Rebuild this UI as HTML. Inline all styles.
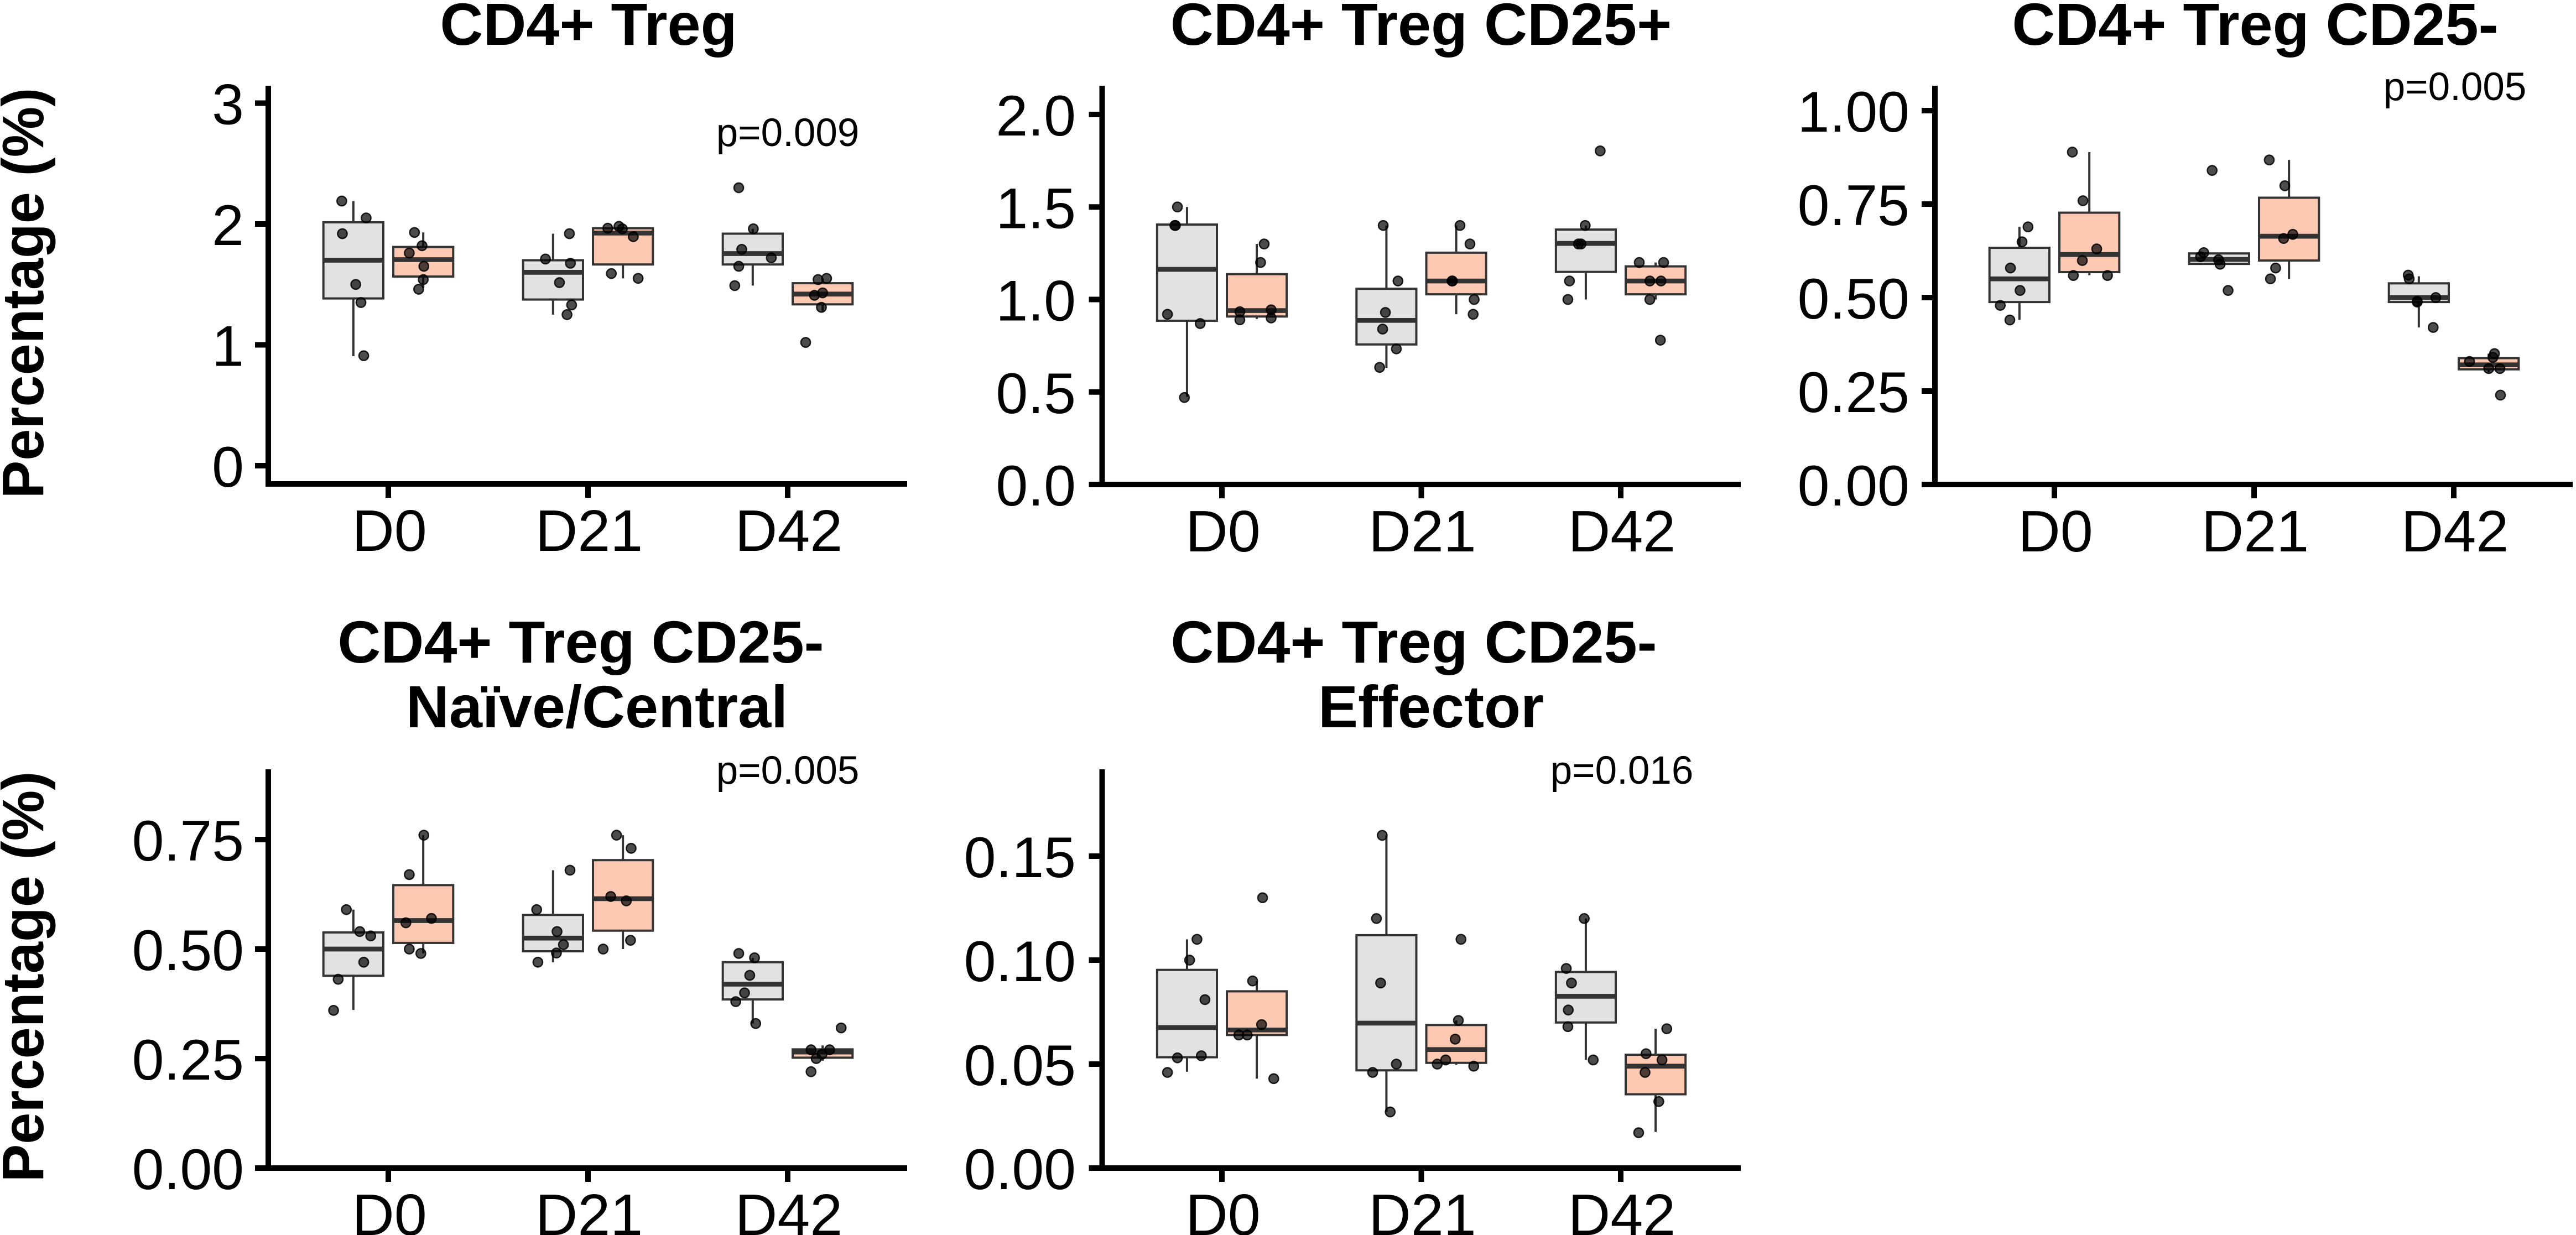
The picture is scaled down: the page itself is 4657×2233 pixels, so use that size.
<!DOCTYPE html>
<html lang="en">
<head>
<meta charset="utf-8">
<title>CD4+ Treg percentages by timepoint</title>
<style>
html,body{margin:0;padding:0;background:#fff;}
svg{display:block;font-family:"Liberation Sans",Arial,sans-serif;}
</style>
</head>
<body>
<svg id="figure" xmlns="http://www.w3.org/2000/svg" width="4657" height="2233" viewBox="0 0 4657 2233"></svg>
<script>
// Shared categories. Each series array below has 6 entries, ordered:
// D0 control, D0 treated, D21 control, D21 treated, D42 control, D42 treated.
const categories = ['D0', 'D21', 'D42'];
const groups = ['control', 'treated'];

// Panel: CD4+ Treg
const tregTicks = ['0', '1', '2', '3'];
const tregQ1 = [1.384, 1.565, 1.375, 1.665, 1.665, 1.335];
const tregMedian = [1.70, 1.705, 1.60, 1.925, 1.755, 1.42];
const tregQ3 = [2.014, 1.81, 1.70, 1.965, 1.92, 1.51];
const tregLow = [0.906, 1.47, 1.25, 1.55, 1.49, 1.28];
const tregHigh = [2.19, 1.93, 1.92, 1.97, 1.96, 1.55];
const tregPoints = [
  [2.19, 2.05, 1.92, 1.50, 1.35, 0.91],
  [1.93, 1.82, 1.76, 1.65, 1.54, 1.46],
  [1.92, 1.71, 1.675, 1.515, 1.33, 1.25],
  [1.965, 1.98, 1.96, 1.895, 1.59, 1.55],
  [2.30, 1.96, 1.79, 1.72, 1.65, 1.49],
  [1.54, 1.55, 1.41, 1.43, 1.31, 1.02]
];
const tregJitter = [
  [-.058, .064, -.055, .012, .038, .052],
  [-.044, -.006, -.070, .003, 0, -.023],
  [.082, -.038, .087, .032, .093, .070],
  [-.076, -.020, -.003, .052, -.058, .076],
  [-.070, .003, -.055, .093, -.070, -.090],
  [-.023, .020, -.041, 0, -.006, -.085]
];

// Panel: CD4+ Treg CD25+
const cd25posTicks = ['0.0', '0.5', '1.0', '1.5', '2.0'];
const cd25posQ1 = [.885, .908, .757, 1.028, 1.149, 1.028];
const cd25posMedian = [1.163, .94, .887, 1.10, 1.303, 1.10];
const cd25posQ3 = [1.405, 1.137, 1.058, 1.253, 1.378, 1.179];
const cd25posLow = [.474, .895, .63, .92, 1.0, 1.0];
const cd25posHigh = [1.50, 1.30, 1.40, 1.40, 1.40, 1.20];
const cd25posPoints = [
  [1.5, 1.4, 1.4, .92, .87, .47],
  [1.3, 1.2, .934, .944, .89, .90],
  [1.4, 1.1, .93, .84, .733, .633],
  [1.4, 1.3, 1.1, 1.1, 1.0, .92],
  [1.803, 1.4, 1.3, 1.3, 1.1, 1.0],
  [1.2, 1.2, 1.1, 1.1, 1.0, .78]
];
const cd25posJitter = [
  [-.048, -.058, -.061, -.098, .066, -.013],
  [.037, .019, -.085, .072, -.085, .072],
  [-.016, .058, -.005, -.019, .050, -.034],
  [.019, .069, -.021, -.019, .090, .085],
  [.072, -.003, -.037, -.024, -.082, -.090],
  [-.082, .040, -.029, .027, -.029, .024]
];

// Panel: CD4+ Treg CD25-
const cd25negTicks = ['0.00', '0.25', '0.50', '0.75', '1.00'];
const cd25negQ1 = [.488, .568, .59, .599, .488, .308];
const cd25negMedian = [.55, .615, .602, .664, .50, .32];
const cd25negQ3 = [.633, .727, .618, .767, .538, .338];
const cd25negLow = [.44, .56, .59, .55, .42, .30];
const cd25negHigh = [.689, .889, .618, .868, .557, .35];
const cd25negPoints = [
  [.689, .649, .579, .519, .479, .44],
  [.889, .759, .63, .599, .559, .559],
  [.84, .62, .609, .601, .589, .519],
  [.868, .799, .669, .658, .579, .55],
  [.56, .55, .5, .49, .488, .42],
  [.35, .34, .329, .31, .31, .239]
];
const cd25negJitter = [
  [.043, .013, -.045, .003, -.096, -.048],
  [-.085, -.032, .037, -.035, -.080, .091],
  [-.035, -.077, -.093, -.003, .005, .045],
  [-.099, -.021, .019, -.027, -.067, -.093],
  [-.053, -.048, .085, -.008, -.008, .072],
  [.029, .021, -.096, 0, .056, .059]
];

// Panel: CD4+ Treg CD25- Naive/Central
const naiveTicks = ['0.00', '0.25', '0.50', '0.75'];
const naiveQ1 = [.439, .514, .495, .542, .385, .252];
const naiveMedian = [.50, .565, .525, .615, .42, .265];
const naiveQ3 = [.538, .646, .578, .703, .47, .271];
const naiveLow = [.361, .49, .47, .50, .33, .245];
const naiveHigh = [.59, .76, .68, .76, .48, .28];
const naivePoints = [
  [.59, .54, .53, .47, .431, .36],
  [.76, .67, .57, .56, .50, .49],
  [.68, .59, .54, .51, .491, .47],
  [.76, .73, .62, .61, .52, .50],
  [.49, .48, .44, .40, .38, .33],
  [.32, .27, .27, .26, .25, .22]
];
const naiveJitter = [
  [-.035, .032, .087, .052, -.076, -.099],
  [.003, -.070, .041, -.087, -.070, -.012],
  [.085, -.082, .020, .052, .017, -.076],
  [-.032, .041, -.061, .017, .038, -.099],
  [-.070, .009, -.015, -.041, -.085, .015],
  [.093, -.058, .035, -.003, -.032, -.058]
];

// Panel: CD4+ Treg CD25- Effector
const effectorTicks = ['0.00', '0.05', '0.10', '0.15'];
const effectorQ1 = [.0533, .064, .047, .0506, .07, .0355];
const effectorMedian = [.0676, .0664, .0697, .057, .0826, .049];
const effectorQ3 = [.0953, .085, .112, .0688, .0943, .0545];
const effectorLow = [.0463, .043, .027, .0496, .052, .0174];
const effectorHigh = [.11, .09, .16, .071, .12, .067];
const effectorPoints = [
  [.11, .10, .081, .053, .054, .046],
  [.13, .09, .069, .064, .064, .043],
  [.16, .12, .089, .05, .046, .027],
  [.11, .071, .062, .052, .05, .049],
  [.12, .096, .089, .076, .068, .052],
  [.067, .055, .052, .046, .032, .017]
];
const effectorJitter = [
  [.050, .013, .090, -.048, .072, -.098],
  [.029, -.021, .024, -.090, -.048, .085],
  [-.021, -.050, -.029, .050, -.069, .019],
  [.024, .011, -.005, -.053, -.095, .088],
  [-.008, -.098, -.072, -.088, -.090, .037],
  [.056, -.048, .032, -.053, .016, -.085]
];

const yAxisTitle = 'Percentage (%)';
const DODGE = 0.175;
const BOX_WIDTH = 0.3;
const svgNS = 'http://www.w3.org/2000/svg';
const figure = document.getElementById('figure');
const fills = { control: '#e3e2e3', treated: '#fec9b2' };

function make(tag, attrs, parent, text) {
  const node = document.createElementNS(svgNS, tag);
  for (const key in attrs) node.setAttribute(key, attrs[key]);
  if (text !== undefined) node.textContent = text;
  parent.appendChild(node);
  return node;
}

function drawPanel(p) {
  const group = make('g', {}, figure);
  
  

  // Axis functions
  const xScale = function (pos) { return p.x0 + pos * p.xStep; };
  const yScale = function (value) { return p.yZero - value * p.yUnit; };

  // Title
  p.title.forEach(function (line, i) {
    const t = make('text', { x: line.x, y: line.y, 'text-anchor': 'middle', 'font-size': 108, 'font-weight': 700, fill: '#000' }, group, line.text);
    
    
  });

  // Y axis title
  if (p.yTitle) {
    const yt = make('text', { transform: 'translate(78 ' + p.yTitle + ') rotate(-90) scale(.97 1)', 'text-anchor': 'middle', 'font-size': 106, 'font-weight': 700, fill: '#000' }, group, yAxisTitle);
    
    
  }

  // Boxes, whiskers and points
  p.q1.forEach(function (q1, i) {
    const cat = Math.floor(i / 2);
    const side = i % 2 === 0 ? -1 : 1;
    const grp = groups[i % 2];
    const center = cat + side * DODGE;
    const label = p.id + '-' + categories[cat] + '-' + grp;
    const cx = xScale(center);
    const halfW = (BOX_WIDTH / 2) * p.xStep;

    const whisker = make('line', { x1: cx, x2: cx, y1: yScale(p.high[i]), y2: yScale(p.low[i]), stroke: '#333', 'stroke-width': 4 }, group);
    
    

    const box = make('rect', { x: cx - halfW, width: 2 * halfW, y: yScale(p.q3[i]), height: yScale(q1) - yScale(p.q3[i]), fill: fills[grp], stroke: '#333', 'stroke-width': 4 }, group);
    
    

    const median = make('line', { x1: cx - halfW, x2: cx + halfW, y1: yScale(p.median[i]), y2: yScale(p.median[i]), stroke: '#333', 'stroke-width': 8.7 }, group);
    
    
  });

  p.points.forEach(function (vals, i) {
    const cat = Math.floor(i / 2);
    const side = i % 2 === 0 ? -1 : 1;
    const label = p.id + '-' + categories[cat] + '-' + groups[i % 2];
    vals.forEach(function (v, j) {
      const dot = make('circle', { cx: xScale(cat + side * DODGE + p.jitter[i][j]), cy: yScale(v), r: 8.6, fill: '#000', 'fill-opacity': 0.7, stroke: '#000', 'stroke-opacity': 0.85, 'stroke-width': 2.5 }, group);
      
      
    });
  });

  // Axis lines
  const yAxis = make('line', { x1: p.axisX, x2: p.axisX, y1: p.top, y2: p.axisY, stroke: '#000', 'stroke-width': 10 }, group);
  
  

  const xAxis = make('line', { x1: p.axisX - 5, x2: p.right, y1: p.axisY, y2: p.axisY, stroke: '#000', 'stroke-width': 10 }, group);
  
  

  // Y ticks and labels
  p.ticks.forEach(function (label) {
    const y = yScale(parseFloat(label));
    const tick = make('line', { x1: p.axisX - 24, x2: p.axisX, y1: y, y2: y, stroke: '#000', 'stroke-width': 10 }, group);
    
    
    const text = make('text', { x: p.labelX, y: y + 38, 'text-anchor': 'end', 'font-size': 104, fill: '#000' }, group, label);
    
    
  });

  // X ticks and labels
  categories.forEach(function (label, i) {
    const x = xScale(i);
    const tick = make('line', { x1: x, x2: x, y1: p.axisY, y2: p.axisY + 25, stroke: '#000', 'stroke-width': 10 }, group);
    
    
    const text = make('text', { x: x + 2, y: p.axisY + 121, 'text-anchor': 'middle', 'font-size': 106, fill: '#000' }, group, label);
    
    
  });

  // P value annotation
  if (p.pValue) {
    const pv = make('text', { x: p.pValue.x, y: p.pValue.y, 'text-anchor': 'middle', 'font-size': 71, fill: '#000' }, group, p.pValue.text);
    
    
  }
}

drawPanel({
  id: 'treg', title: [{ text: 'CD4+ Treg', x: 1064, y: 81 }], yTitle: 530,
  axisX: 485, right: 1640, axisY: 875, top: 155, labelX: 441,
  x0: 702, xStep: 361, yZero: 842, yUnit: 218.5,
  ticks: tregTicks, q1: tregQ1, median: tregMedian, q3: tregQ3, low: tregLow, high: tregHigh,
  points: tregPoints, jitter: tregJitter,
  pValue: { text: 'p=0.009', x: 1424, y: 264 }
});
drawPanel({
  id: 'treg-cd25-positive', title: [{ text: 'CD4+ Treg CD25+', x: 2569, y: 81 }],
  axisX: 1992.5, right: 3147, axisY: 876, top: 155, labelX: 1945,
  x0: 2209, xStep: 360.5, yZero: 876, yUnit: 334.5,
  ticks: cd25posTicks, q1: cd25posQ1, median: cd25posMedian, q3: cd25posQ3, low: cd25posLow, high: cd25posHigh,
  points: cd25posPoints, jitter: cd25posJitter
});
drawPanel({
  id: 'treg-cd25-negative', title: [{ text: 'CD4+ Treg CD25-', x: 4077, y: 81 }],
  axisX: 3498, right: 4651, axisY: 876, top: 155, labelX: 3452,
  x0: 3714, xStep: 361, yZero: 876, yUnit: 676,
  ticks: cd25negTicks, q1: cd25negQ1, median: cd25negMedian, q3: cd25negQ3, low: cd25negLow, high: cd25negHigh,
  points: cd25negPoints, jitter: cd25negJitter,
  pValue: { text: 'p=0.005', x: 4438, y: 181 }
});
drawPanel({
  id: 'naive-central',
  title: [{ text: 'CD4+ Treg CD25-', x: 1050, y: 1198 }, { text: 'Naïve/Central', x: 1079, y: 1315 }],
  yTitle: 1766,
  axisX: 485, right: 1640, axisY: 2112, top: 1391, labelX: 441,
  x0: 702, xStep: 361, yZero: 2112, yUnit: 792,
  ticks: naiveTicks, q1: naiveQ1, median: naiveMedian, q3: naiveQ3, low: naiveLow, high: naiveHigh,
  points: naivePoints, jitter: naiveJitter,
  pValue: { text: 'p=0.005', x: 1424, y: 1417 }
});
drawPanel({
  id: 'effector',
  title: [{ text: 'CD4+ Treg CD25-', x: 2556, y: 1198 }, { text: 'Effector', x: 2587, y: 1315 }],
  axisX: 1992.5, right: 3147, axisY: 2112, top: 1391, labelX: 1945,
  x0: 2209, xStep: 360.5, yZero: 2112, yUnit: 3760,
  ticks: effectorTicks, q1: effectorQ1, median: effectorMedian, q3: effectorQ3, low: effectorLow, high: effectorHigh,
  points: effectorPoints, jitter: effectorJitter,
  pValue: { text: 'p=0.016', x: 2932, y: 1417 }
});
</script>
</body>
</html>
